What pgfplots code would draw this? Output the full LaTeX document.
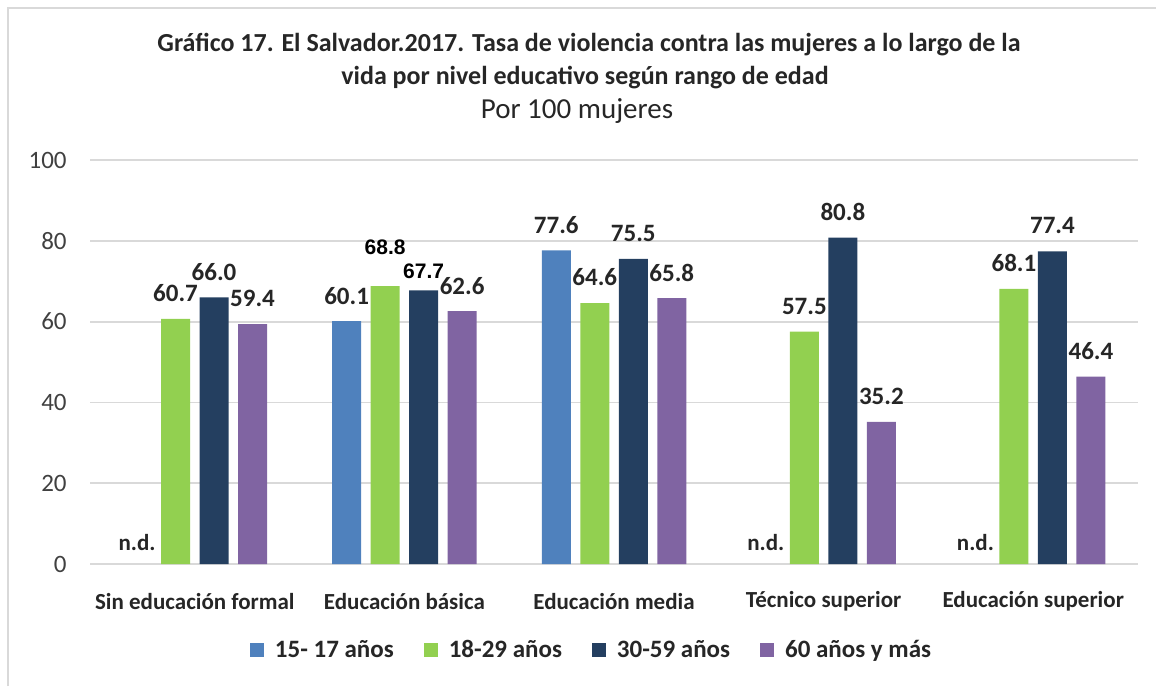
\documentclass[border=0pt]{standalone}
\usepackage{fontspec}
\setmainfont{Carlito}
\newfontfamily\arialbf{Liberation Sans}[Scale=1.0]
\newcommand\ar[1]{{\arialbf\bfseries\fontsize{10.5}{12}\selectfont\color{black}#1}}
\usepackage{pgfplots}
\pgfplotsset{compat=1.18}
\usepackage{pgfplotstable}
\definecolor{cA}{HTML}{4F81BD}
\definecolor{cB}{HTML}{92D050}
\definecolor{cC}{HTML}{243F60}
\definecolor{cD}{HTML}{8064A2}
\definecolor{gridc}{HTML}{D9D9D9}
\definecolor{txt}{HTML}{262626}

% 15-17 anos (n.d. in three categories)
\pgfplotstableread{
x y dy lab
1 60.1 12.75 60.1
2 77.6 12.75 77.6
}\tblA
\pgfplotstableread{
x y dy lab
0 0 10.5 n.d.
3 0 10.5 n.d.
4 0 10.5 n.d.
}\tblND
\pgfplotstableread{
x y dy lab
0 60.7 12.75 60.7
1 68.8 19.5 \ar{68.8}
2 64.6 12.75 64.6
3 57.5 12.75 57.5
4 68.1 12.75 68.1
}\tblB
\pgfplotstableread{
x y dy lab
0 66.0 12.75 66.0
1 67.7 9.5 \ar{67.7}
2 75.5 12.75 75.5
3 80.8 12.75 80.8
4 77.4 12.75 77.4
}\tblC
\pgfplotstableread{
x y dy lab
0 59.4 12.75 59.4
1 62.6 12.75 62.6
2 65.8 12.75 65.8
3 35.2 12.75 35.2
4 46.4 12.75 46.4
}\tblD

\begin{document}
\begin{tikzpicture}
\path[use as bounding box] (0,0) rectangle (578pt,343pt);
\draw[gray!30, line width=0.75pt] (4pt,0) -- (4pt,339pt) -- (578pt,339pt);
\node[font=\bfseries\fontsize{13}{15}\selectfont, text=txt] at (294.5pt,320.5pt) {Gráfico 17. El Salvador.2017. Tasa de violencia contra las mujeres a lo largo de la};
\node[font=\bfseries\fontsize{13}{15}\selectfont, text=txt] at (292.5pt,304pt) {vida por nivel educativo según rango de edad};
\node[font=\fontsize{14.5}{16}\selectfont, text=txt] at (288.5pt,287.5pt) {Por 100 mujeres};
\begin{axis}[
  at={(45pt,61pt)}, anchor=south west,
  scale only axis, width=524pt, height=202pt,
  xmin=-0.5, xmax=4.5, ymin=0, ymax=100,
  ybar, bar width=14.5pt,
  axis line style={draw=none},
  tick style={draw=none},
  ymajorgrids, grid style={gridc, line width=0.9pt},
  ytick={0,20,...,100},
  xtick={0,1,2,3,4},
  xticklabels={Sin educación formal, Educación básica, Educación media, Técnico superior, Educación superior},
  xticklabel style={anchor=center, yshift=-14.5pt, font=\bfseries\fontsize{11.5}{13}\selectfont, text=txt},
  yticklabel style={anchor=east, inner sep=0pt, xshift=-11.5pt, font=\fontsize{12.5}{14}\selectfont, text=black!75},
  /pgf/number format/assume math mode=true,
  point meta=explicit symbolic,
  visualization depends on={\thisrow{dy} \as \dy},
  nodes near coords,
  every node near coord/.append style={anchor=center, yshift=\dy pt, font=\bfseries\fontsize{12.5}{14}\selectfont, text=txt},
  legend columns=4,
  legend style={at={(0.4795,-0.213)}, anchor=center, draw=none, fill=none,
    font=\bfseries\fontsize{12.5}{14}\selectfont, text=txt,
    /tikz/every odd column/.append style={column sep=3.5pt},
    /tikz/every even column/.append style={column sep=13pt}},
  legend image code/.code={\fill[#1] (0pt,-3.5pt) rectangle (7pt,3.5pt);},
]
\addplot[fill=cA, draw=none, bar shift=-28.875pt] table[x=x, y=y, meta=lab] {\tblA};
\addplot[fill=cB, draw=none, bar shift=-9.625pt] table[x=x, y=y, meta=lab] {\tblB};
\addplot[fill=cC, draw=none, bar shift=9.625pt] table[x=x, y=y, meta=lab] {\tblC};
\addplot[fill=cD, draw=none, bar shift=28.875pt] table[x=x, y=y, meta=lab] {\tblD};
\addplot[fill=none, draw=none, bar shift=-28.875pt, forget plot,
  every node near coord/.append style={font=\bfseries\fontsize{11.5}{13}\selectfont}] table[x=x, y=y, meta=lab] {\tblND};
\legend{15- 17 años, 18-29 años, 30-59 años, 60 años y más}
\end{axis}
\end{tikzpicture}
\end{document}
